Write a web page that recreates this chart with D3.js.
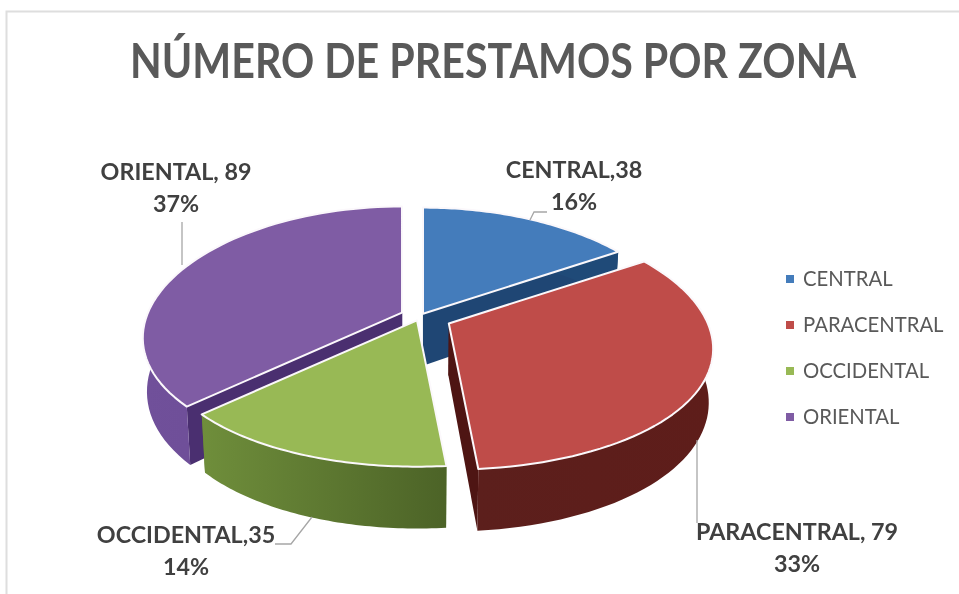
<!DOCTYPE html>
<html>
<head>
<meta charset="utf-8">
<script src="https://cdn.jsdelivr.net/npm/d3@7"></script>
<style>
  html, body { margin: 0; padding: 0; background: #fff; }
  svg { display: block; filter: blur(0.5px); }
</style>
</head>
<body>
<div id="chart"></div>
<script>
const zones = ["CENTRAL", "PARACENTRAL", "OCCIDENTAL", "ORIENTAL"];
const loans = [38, 79, 35, 89];
const shares = ["16%", "33%", "14%", "37%"];
const valueLabels = ["CENTRAL,38", "PARACENTRAL, 79", "OCCIDENTAL,35", "ORIENTAL, 89"];

const topColors = ["#447cbb", "#bf4c49", "#98b955", "#7f5ca4"];
const wallStart = ["#1f4a78", "#5c1f1c", "#6f8e3b", "#70509a"];
const wallEnd = ["#1f4a78", "#5e1d1a", "#4c6327", "#6a4a94"];
const innerColors = ["#1f4674", "#4e1513", "#5c7a30", "#4a2f70"];

const width = 959;
const height = 594;
const cx = 420, cy = 316.5;   // pie centre before exploding
const rxLeft = 254, rxRight = 259, ry = 123;
const tiltX = 0.2, tiltY = 0.159; // perspective
const depth = 52;
const explode = [6.3, 32, 8.4, 19.6]; // per slice, like Excel's point explosion
const drawOrder = [0, 3, 2, 1];

const svg = d3.select("#chart").append("svg")
  .attr("width", width)
  .attr("height", height)
  .attr("viewBox", [0, 0, width, height]);

// chart frame, only top and left survive in the picture
svg.append("path")
  .attr("d", "M6.5,594V11.5H959")
  .attr("fill", "none")
  .attr("stroke", "#dedede")
  .attr("stroke-width", 2);

svg.append("text")
  .attr("x", 130)
  .attr("y", 78)
  .attr("textLength", 726)
  .attr("lengthAdjust", "spacingAndGlyphs")
  .attr("font-family", "Lato")
  .attr("font-weight", 700)
  .attr("font-size", 47)
  .attr("fill", "#595959")
  .text("NÚMERO DE PRESTAMOS POR ZONA");

const slices = d3.pie().sort(null).value(d => d)(loans);

const defs = svg.append("defs");
zones.forEach((z, i) => {
  const g = defs.append("linearGradient").attr("id", "wall" + i);
  g.append("stop").attr("offset", "0%").attr("stop-color", wallStart[i]);
  g.append("stop").attr("offset", "100%").attr("stop-color", wallEnd[i]);
});

const xs = d3.scaleLinear().domain([-1, 0, 1]).range([-rxLeft, 0, rxRight]);
const ys = d3.scaleLinear().domain([-1, 1]).range([-ry, ry]);

function apex(s, i) {
  const mid = (s.startAngle + s.endAngle) / 2;
  return [cx + explode[i] * Math.sin(mid), cy - explode[i] * Math.cos(mid) * 0.5];
}

// angle on the pie to screen, low = bottom face of the disc
function project(s, i, angle, r, low) {
  const a = apex(s, i);
  const u = r * Math.sin(angle);
  const v = -r * Math.cos(angle);
  const wx = 1 / (1 - tiltX * v);
  const wy = 1 / (1 - tiltY * v);
  let x = a[0] + xs(u) * wx;
  let y = a[1] + ys(v) * wy;
  if (low) {
    x = cx + (x - cx) * 0.985;
    y += depth * wy;
  }
  return [x, y];
}

function arcPoints(s, i, low) {
  const n = 60;
  const step = (s.endAngle - s.startAngle) / n;
  return d3.range(n + 1).map(k => project(s, i, s.startAngle + k * step, 1, low));
}

const line = d3.line();

drawOrder.forEach(i => {
  const s = slices[i];
  const g = svg.append("g").attr("class", "slice");
  const top0 = project(s, i, 0, 0, false);
  const low0 = project(s, i, 0, 0, true);
  const topA = project(s, i, s.startAngle, 1, false);
  const lowA = project(s, i, s.startAngle, 1, true);
  const topB = project(s, i, s.endAngle, 1, false);
  const lowB = project(s, i, s.endAngle, 1, true);

  [[top0, topA, lowA, low0], [top0, topB, lowB, low0]].forEach(q => {
    g.append("path")
      .attr("d", line(q) + "Z")
      .attr("fill", innerColors[i]);
  });

  g.append("path")
    .attr("d", line(arcPoints(s, i, false).concat(arcPoints(s, i, true).reverse())) + "Z")
    .attr("fill", `url(#wall${i})`);

  g.append("path")
    .attr("d", line([top0].concat(arcPoints(s, i, false))) + "Z")
    .attr("fill", topColors[i])
    .attr("stroke", "#fbf8fb")
    .attr("stroke-width", 2)
    .attr("stroke-linejoin", "round");
});

// leader lines
const leaders = [
  [[547, 212], [534, 212], [530, 220]],
  [[697, 440], [697, 523]],
  [[275, 544], [291, 544], [312, 517]],
  [[182, 222], [182, 265]]
];
svg.append("g")
  .selectAll("path")
  .data(leaders)
  .join("path")
  .attr("d", d => line(d))
  .attr("fill", "none")
  .attr("stroke", "#a6a6a6")
  .attr("stroke-width", 1.3);

// data labels
const labelX = [574, 797, 186, 176];
const labelY = [178, 540, 543, 180];
const labels = svg.append("g")
  .attr("font-family", "Lato")
  .attr("font-weight", 700)
  .attr("font-size", 23.3)
  .attr("fill", "#404040")
  .attr("text-anchor", "middle");
zones.forEach((z, i) => {
  labels.append("text").attr("x", labelX[i]).attr("y", labelY[i]).text(valueLabels[i]);
  labels.append("text").attr("x", labelX[i]).attr("y", labelY[i] + 32).text(shares[i]);
});

// legend
const legendY = d3.scalePoint().domain(zones).range([279, 417]);
const legend = svg.append("g")
  .selectAll("g")
  .data(zones)
  .join("g")
  .attr("transform", d => `translate(786,${legendY(d)})`);
legend.append("rect")
  .attr("x", 0)
  .attr("y", -4)
  .attr("width", 8)
  .attr("height", 8)
  .attr("fill", (d, i) => topColors[i]);
legend.append("text")
  .attr("x", 17)
  .attr("y", 7)
  .attr("font-family", "Lato")
  .attr("font-size", 20.3)
  .attr("fill", "#595959")
  .text(d => d);
</script>
</body>
</html>
